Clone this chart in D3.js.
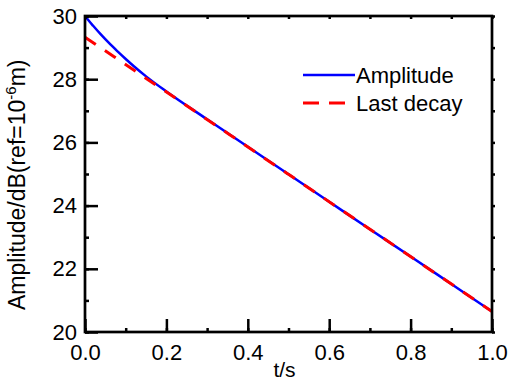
<!DOCTYPE html>
<html>
<head>
<meta charset="utf-8">
<script src="https://cdn.jsdelivr.net/npm/d3@7"></script>
<style>
  body { margin: 0; background: #fff; }
  text { font-family: Arial, "Liberation Sans", sans-serif; }
</style>
</head>
<body>
<div id="chart-container"></div>
<script>
// values
const ampT = [0, 0.01, 0.02, 0.04, 0.06, 0.08, 0.10, 0.12, 0.15, 0.20, 0.30, 0.40, 0.50, 0.60, 0.70, 0.80, 0.90, 1.00];
const ampV = [30.00, 29.84, 29.69, 29.40, 29.13, 28.88, 28.64, 28.41, 28.09, 27.61, 26.73, 25.86, 24.99, 24.12, 23.25, 22.39, 21.52, 20.65];
const decayT = [0, 0.5, 1.0];
const decayV = [29.33, 24.99, 20.65];
const xTicks = [0, 0.2, 0.4, 0.6, 0.8, 1.0];
const yTicks = [20, 22, 24, 26, 28, 30];
const seriesNames = ["Amplitude", "Last decay"];

const W = 509, H = 383;
const margin = { top: 16, right: 17, bottom: 51, left: 85 };
const width = W - margin.left - margin.right;
const height = H - margin.top - margin.bottom;

const x = d3.scaleLinear().domain([0, 1]).range([0, width]);
const y = d3.scaleLinear().domain([20, 30]).range([height, 0]);

const svg = d3.select("#chart-container")
  .append("svg")
  .attr("width", W)
  .attr("height", H)
  .append("g")
  .attr("transform", `translate(${margin.left},${margin.top})`);

const amp = ampT.map((t, i) => ({ t, v: ampV[i] }));
const decay = decayT.map((t, i) => ({ t, v: decayV[i] }));

const line = d3.line()
  .x(d => x(d.t))
  .y(d => y(d.v))
  .curve(d3.curveMonotoneX);

svg.append("path")
  .datum(amp)
  .attr("fill", "none")
  .attr("stroke", "#0000ff")
  .attr("stroke-width", 2.5)
  .attr("d", line);

svg.append("path")
  .datum(decay)
  .attr("fill", "none")
  .attr("stroke", "#ff0000")
  .attr("stroke-width", 3)
  .attr("stroke-dasharray", "13,11")
  .attr("d", line);

// minor ticks (small, inward)
const minorX = d3.range(0, 1.0001, 0.1);
const minorY = d3.range(20, 30.0001, 1);

function styleAxis(g) {
  g.select(".domain").remove();
  g.selectAll(".tick line").attr("stroke", "#000").attr("stroke-width", 2.5);
}

svg.append("g")
  .attr("transform", `translate(0,${height})`)
  .call(d3.axisBottom(x).tickValues(minorX).tickSize(-4).tickFormat(""))
  .call(styleAxis);
svg.append("g")
  .call(d3.axisTop(x).tickValues(minorX).tickSize(-3).tickFormat(""))
  .call(styleAxis);
svg.append("g")
  .call(d3.axisLeft(y).tickValues(minorY).tickSize(-4).tickFormat(""))
  .call(styleAxis);
svg.append("g")
  .attr("transform", `translate(${width},0)`)
  .call(d3.axisRight(y).tickValues(minorY).tickSize(3).tickFormat(""))
  .call(styleAxis);

// major ticks with labels
svg.append("g")
  .attr("transform", `translate(0,${height})`)
  .call(d3.axisBottom(x).tickValues(xTicks).tickSize(-13).tickPadding(12).tickFormat(d3.format(".1f")))
  .call(styleAxis)
  .selectAll(".tick text")
  .attr("fill", "#000")
  .style("font-size", "22px");

svg.append("g")
  .call(d3.axisLeft(y).tickValues(yTicks).tickSize(-13).tickPadding(8).tickFormat(d3.format("d")))
  .call(styleAxis)
  .selectAll(".tick text")
  .attr("fill", "#000")
  .style("font-size", "22px");

// frame
svg.append("rect")
  .attr("width", width)
  .attr("height", height)
  .attr("fill", "none")
  .attr("stroke", "#000")
  .attr("stroke-width", 2.7);

// axis titles
svg.append("text")
  .attr("x", width / 2 - 4)
  .attr("y", height + 45)
  .attr("text-anchor", "middle")
  .style("font-size", "21px")
  .text("t/s");

const yTitle = svg.append("text")
  .attr("transform", `translate(${-60},${294}) rotate(-90)`)
  .attr("text-anchor", "start")
  .style("font-size", "23px");
yTitle.append("tspan").text("Amplitude/dB(ref=10");
yTitle.append("tspan").attr("dy", -9).style("font-size", "15px").text("-6");
yTitle.append("tspan").attr("dy", 9).text("m)");

// legend
const legend = svg.append("g").attr("transform", `translate(${303 - margin.left},${75 - margin.top})`);
legend.append("line")
  .attr("x1", 0).attr("x2", 52).attr("y1", 0).attr("y2", 0)
  .attr("stroke", "#0000ff").attr("stroke-width", 2.5);
legend.append("line")
  .attr("x1", 0).attr("x2", 42).attr("y1", 28).attr("y2", 28)
  .attr("stroke", "#ff0000").attr("stroke-width", 3)
  .attr("stroke-dasharray", "16,10");
legend.selectAll("text.lab")
  .data(seriesNames)
  .join("text")
  .attr("class", "lab")
  .attr("x", 53)
  .attr("y", (d, i) => 8 + i * 28)
  .style("font-size", "22px")
  .text(d => d);
</script>
</body>
</html>
